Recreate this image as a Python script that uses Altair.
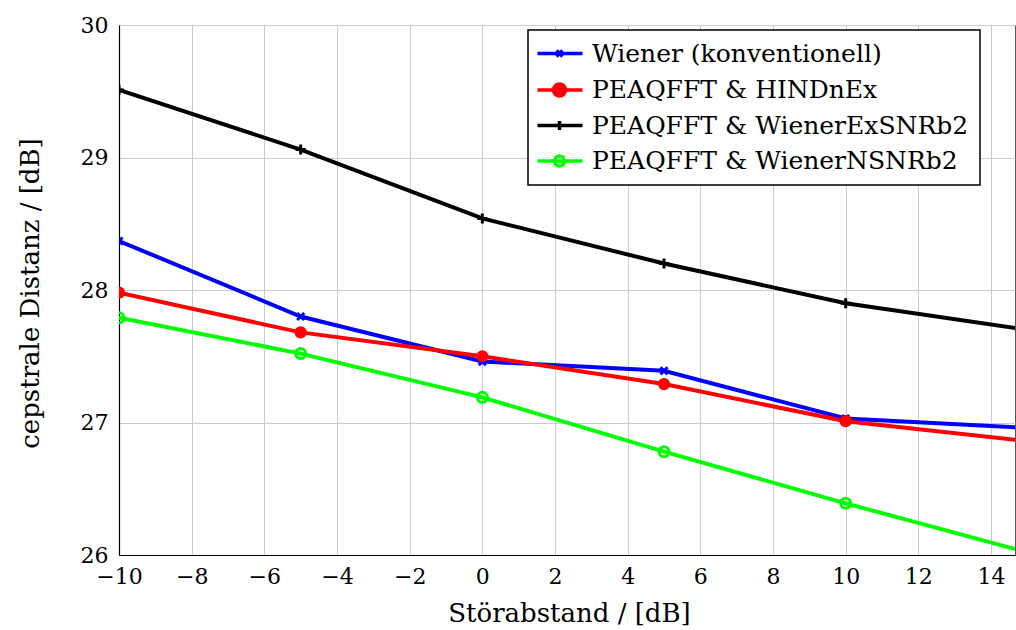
import altair as alt
import pandas as pd

# ---- data ----
x_vals = [-10, -5, 0, 5, 10, 15]
wiener = [28.37, 27.80, 27.46, 27.39, 27.03, 26.96]
hindnex = [27.98, 27.68, 27.50, 27.29, 27.01, 26.86]
wienerex = [29.51, 29.06, 28.54, 28.20, 27.90, 27.70]
wienern = [27.79, 27.52, 27.19, 26.78, 26.39, 26.02]

series_names = [
    "Wiener (konventionell)",
    "PEAQFFT & HINDnEx",
    "PEAQFFT & WienerExSNRb2",
    "PEAQFFT & WienerNSNRb2",
]
series_values = [wiener, hindnex, wienerex, wienern]
colors = ["#0000ff", "#ff0000", "#000000", "#00ff00"]

x_ticks = [-10, -8, -6, -4, -2, 0, 2, 4, 6, 8, 10, 12, 14]
y_ticks = [26, 27, 28, 29, 30]

rows = []
for name, vals in zip(series_names, series_values):
    for xv, yv in zip(x_vals, vals):
        rows.append({"x": xv, "y": yv, "series": name})
df = pd.DataFrame(rows)

FONT = "DejaVu Serif"

x_enc = alt.X(
    "x:Q",
    scale=alt.Scale(domain=[-10, 14.66], nice=False, zero=False),
    axis=alt.Axis(
        values=x_ticks,
        title="Störabstand / [dB]",
        titleX=450,
        titleY=58,
        titleAlign="center",
        titleBaseline="middle",
        labelFlush=False,
    ),
)
y_enc = alt.Y(
    "y:Q",
    scale=alt.Scale(domain=[26, 30], nice=False, zero=False),
    axis=alt.Axis(
        values=y_ticks,
        title="cepstrale Distanz / [dB]",
        titleX=-89,
        titleY=268,
        titleAngle=-90,
        titleAlign="center",
        titleBaseline="middle",
        labelFlush=False,
    ),
)

base = alt.Chart(df)

# marker paths (unit square -1..1)
x_cross = "M-1,-1L1,1M-1,1L1,-1"
plus = "M-1,0L1,0M0,-1L0,1"

layers = []
marker_specs = [
    dict(shape=x_cross, size=50, filled=False, strokeWidth=3),
    dict(shape="circle", size=150, filled=True, strokeWidth=1),
    dict(shape=plus, size=100, filled=False, strokeWidth=3),
    dict(shape="circle", size=100, filled=False, strokeWidth=3),
]
for name, col, ms in zip(series_names, colors, marker_specs):
    sel = base.transform_filter(alt.datum.series == name)
    line = sel.mark_line(strokeWidth=4, color=col, clip=True).encode(
        x=x_enc, y=y_enc
    )
    pts = sel.mark_point(
        shape=ms["shape"],
        size=ms["size"],
        filled=ms["filled"],
        strokeWidth=ms["strokeWidth"],
        color=col,
        opacity=1,
        clip=True,
    ).encode(x=x_enc, y=y_enc)
    layers += [line, pts]

# legend symbols: line + marker (units of 5px with symbol size 100)
c = 1.6
L0, L1 = round(c - 4.4, 3), round(c + 4.6, 3)


def circ(r):
    k = round(0.5523 * r, 3)
    a, b = round(c + r, 3), round(c - r, 3)
    ck, cmk = round(c + k, 3), round(c - k, 3)
    return (
        f"M{a},0"
        f"C{a},{k} {ck},{r} {c},{r}"
        f"C{cmk},{r} {b},{k} {b},0"
        f"C{b},{-k} {cmk},{-r} {c},{-r}"
        f"C{ck},{-r} {a},{-k} {a},0Z"
    )


legend_paths = [
    f"M{L0},0L{L1},0M{c-0.6:.2f},-0.6L{c+0.6:.2f},0.6M{c-0.6:.2f},0.6L{c+0.6:.2f},-0.6",
    f"M{L0},0L{L1},0" + circ(1.2),
    f"M{L0},0L{L1},0M{c},-0.9L{c},0.9",
    f"M{L0},0L{L1},0" + circ(1.0),
]
legend_fills = ["#0000ff", "#ff0000", "#000000", "transparent"]

leg = alt.Legend(
    title=None,
    orient="none",
    legendX=409,
    legendY=5,
)

legend_layer = base.mark_point(size=0, strokeWidth=3, opacity=1).encode(
    x=x_enc,
    y=y_enc,
    stroke=alt.Stroke(
        "series:N",
        scale=alt.Scale(domain=series_names, range=colors),
        legend=leg,
    ),
    fill=alt.Fill(
        "series:N",
        scale=alt.Scale(domain=series_names, range=legend_fills),
        legend=leg,
    ),
    shape=alt.Shape(
        "series:N",
        scale=alt.Scale(domain=series_names, range=legend_paths),
        legend=leg,
    ),
)
layers.append(legend_layer)

chart = (
    alt.layer(*layers)
    .properties(
        width=896,
        height=530,
        autosize="none",
        padding={"left": 119, "top": 25, "right": 1, "bottom": 75},
    )
    .configure_view(stroke="#555555", strokeWidth=1)
    .configure_axis(
        labelFont=FONT,
        labelFontSize=22,
        labelColor="black",
        titleFont=FONT,
        titleFontSize=26,
        titleFontWeight="normal",
        titleColor="black",
        gridColor="#cccccc",
        gridWidth=1,
        domainColor="black",
        domainWidth=1.2,
        ticks=False,
    )
    .configure_axisX(labelPadding=11)
    .configure_axisY(labelPadding=11)
    .configure_legend(
        fillColor="white",
        strokeColor="black",
        strokeWidth=1.5,
        padding=11,
        labelFont=FONT,
        labelFontSize=25,
        labelColor="black",
        labelLimit=0,
        labelOffset=28,
        symbolSize=100,
        symbolStrokeWidth=3.5,
        symbolOpacity=1,
        rowPadding=9.5,
    )
)

chart.save("out.html", embed_options={"renderer": "svg", "actions": False})
